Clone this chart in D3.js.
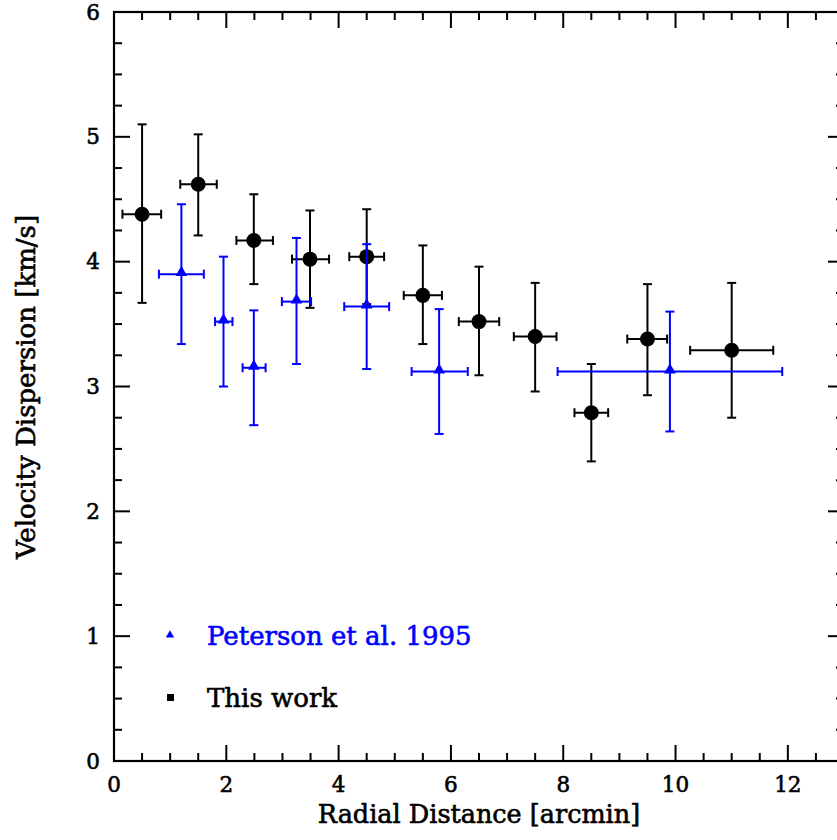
<!DOCTYPE html>
<html>
<head>
<meta charset="utf-8">
<script src="https://cdn.jsdelivr.net/npm/d3@7"></script>
<style>
  body { margin: 0; background: #fff; }
  text { font-family: "DejaVu Serif", serif; stroke-width: 0.6px; }
</style>
</head>
<body>
<div id="chart"></div>
<script>
// This work (black circles)
var workX   = [0.50, 1.50, 2.49, 3.49, 4.50, 5.50, 6.50, 7.50, 8.50, 9.50, 11.00];
var workY   = [4.38, 4.62, 4.17, 4.02, 4.04, 3.73, 3.52, 3.40, 2.79, 3.38, 3.29];
var workXlo = [0.15, 1.18, 2.18, 3.17, 4.19, 5.16, 6.14, 7.12, 8.20, 9.14, 10.26];
var workXhi = [0.84, 1.83, 2.83, 3.83, 4.81, 5.84, 6.86, 7.88, 8.80, 9.85, 11.74];
var workYlo = [3.67, 4.21, 3.82, 3.63, 3.66, 3.34, 3.09, 2.96, 2.40, 2.93, 2.75];
var workYhi = [5.10, 5.02, 4.54, 4.41, 4.42, 4.13, 3.96, 3.83, 3.18, 3.82, 3.83];

// Peterson et al. 1995 (blue triangles)
var petX   = [1.20, 1.95, 2.49, 3.25, 4.50, 5.79, 9.90];
var petY   = [3.90, 3.52, 3.15, 3.68, 3.64, 3.12, 3.12];
var petXlo = [0.80, 1.80, 2.29, 2.99, 4.10, 5.30, 7.90];
var petXhi = [1.60, 2.11, 2.70, 3.51, 4.90, 6.30, 11.90];
var petYlo = [3.34, 3.00, 2.69, 3.18, 3.14, 2.62, 2.64];
var petYhi = [4.46, 4.04, 3.61, 4.19, 4.14, 3.62, 3.60];

var xMajor = [0, 2, 4, 6, 8, 10, 12];
var yMajor = [0, 1, 2, 3, 4, 5, 6];

var width = 837, height = 840;
var pLeft = 114, pRight = 844, pTop = 12, pBottom = 761;

var x = d3.scaleLinear().domain([0, 13]).range([pLeft, pRight]);
var y = d3.scaleLinear().domain([0, 6]).range([pBottom, pTop]);

var svg = d3.select("#chart").append("svg")
  .attr("width", width)
  .attr("height", height);

// frame
svg.append("rect")
  .attr("x", pLeft).attr("y", pTop)
  .attr("width", pRight - pLeft).attr("height", pBottom - pTop)
  .style("fill", "none").style("stroke", "black").style("stroke-width", 2.2);

// ticks, all pointing inward
var xMinor = d3.range(0, 13.01, 0.5);
var yMinor = d3.range(0, 6.01, 0.25);

function tickLen(v, step) { return Math.abs(v / step - Math.round(v / step)) < 1e-6 ? 16 : 8; }

var ticks = svg.append("g").style("stroke", "black").style("stroke-width", 2);
xMinor.forEach(function(v) {
  var l = tickLen(v, 2);
  ticks.append("line").attr("x1", x(v)).attr("x2", x(v)).attr("y1", pBottom).attr("y2", pBottom - l);
  ticks.append("line").attr("x1", x(v)).attr("x2", x(v)).attr("y1", pTop).attr("y2", pTop + l);
});
yMinor.forEach(function(v) {
  var l = tickLen(v, 1);
  ticks.append("line").attr("y1", y(v)).attr("y2", y(v)).attr("x1", pLeft).attr("x2", pLeft + l);
  ticks.append("line").attr("y1", y(v)).attr("y2", y(v)).attr("x1", pRight).attr("x2", pRight - l);
});

// tick labels
svg.append("g").selectAll("text")
  .data(xMajor).enter().append("text")
  .attr("x", function(d) { return x(d); })
  .attr("y", 792)
  .attr("text-anchor", "middle")
  .style("font-size", "21.5px")
  .style("stroke", "black")
  .text(function(d) { return d; });

svg.append("g").selectAll("text")
  .data(yMajor).enter().append("text")
  .attr("x", 100)
  .attr("y", function(d) { return y(d) + 7.5; })
  .attr("text-anchor", "end")
  .style("font-size", "21.5px")
  .style("stroke", "black")
  .text(function(d) { return d; });

// axis titles
svg.append("text")
  .attr("x", 479).attr("y", 823)
  .attr("text-anchor", "middle")
  .style("font-size", "25.5px")
  .style("stroke", "black")
  .text("Radial Distance [arcmin]");

svg.append("text")
  .attr("transform", "translate(35,387) rotate(-90)")
  .attr("text-anchor", "middle")
  .style("font-size", "26px")
  .style("stroke", "black")
  .text("Velocity Dispersion [km/s]");

// error bars
function drawSeries(xs, ys, xlo, xhi, ylo, yhi, color) {
  var g = svg.append("g").style("stroke", color).style("stroke-width", 2).style("fill", "none");
  xs.forEach(function(d, i) {
    var cx = x(d), cy = y(ys[i]);
    // horizontal bar
    g.append("line").attr("x1", x(xlo[i])).attr("x2", x(xhi[i])).attr("y1", cy).attr("y2", cy);
    g.append("line").attr("x1", x(xlo[i])).attr("x2", x(xlo[i])).attr("y1", cy - 4.5).attr("y2", cy + 4.5);
    g.append("line").attr("x1", x(xhi[i])).attr("x2", x(xhi[i])).attr("y1", cy - 4.5).attr("y2", cy + 4.5);
    // vertical bar
    g.append("line").attr("x1", cx).attr("x2", cx).attr("y1", y(ylo[i])).attr("y2", y(yhi[i]));
    g.append("line").attr("x1", cx - 4.5).attr("x2", cx + 4.5).attr("y1", y(ylo[i])).attr("y2", y(ylo[i]));
    g.append("line").attr("x1", cx - 4.5).attr("x2", cx + 4.5).attr("y1", y(yhi[i])).attr("y2", y(yhi[i]));
  });
  return g;
}

drawSeries(workX, workY, workXlo, workXhi, workYlo, workYhi, "black");
svg.append("g").selectAll("circle")
  .data(workX).enter().append("circle")
  .attr("cx", function(d) { return x(d); })
  .attr("cy", function(d, i) { return y(workY[i]); })
  .attr("r", 7.5)
  .style("fill", "black");

drawSeries(petX, petY, petXlo, petXhi, petYlo, petYhi, "#0000ff");
var tri = d3.symbol().type(d3.symbolTriangle).size(60);
svg.append("g").selectAll("path")
  .data(petX).enter().append("path")
  .attr("d", tri)
  .attr("transform", function(d, i) { return "translate(" + x(d) + "," + (y(petY[i]) - 1.5) + ")"; })
  .style("fill", "#0000ff");

// legend
svg.append("path")
  .attr("d", d3.symbol().type(d3.symbolTriangle).size(30))
  .attr("transform", "translate(170,635)")
  .style("fill", "#0000ff");
svg.append("text")
  .attr("x", 207).attr("y", 645)
  .style("font-size", "26px")
  .style("fill", "#0000ff")
  .style("stroke", "#0000ff")
  .text("Peterson et al. 1995");

svg.append("rect")
  .attr("x", 167).attr("y", 694).attr("width", 7).attr("height", 7)
  .style("fill", "black");
svg.append("text")
  .attr("x", 207).attr("y", 707)
  .style("font-size", "26px")
  .style("fill", "black")
  .style("stroke", "black")
  .text("This work");
</script>
</body>
</html>
